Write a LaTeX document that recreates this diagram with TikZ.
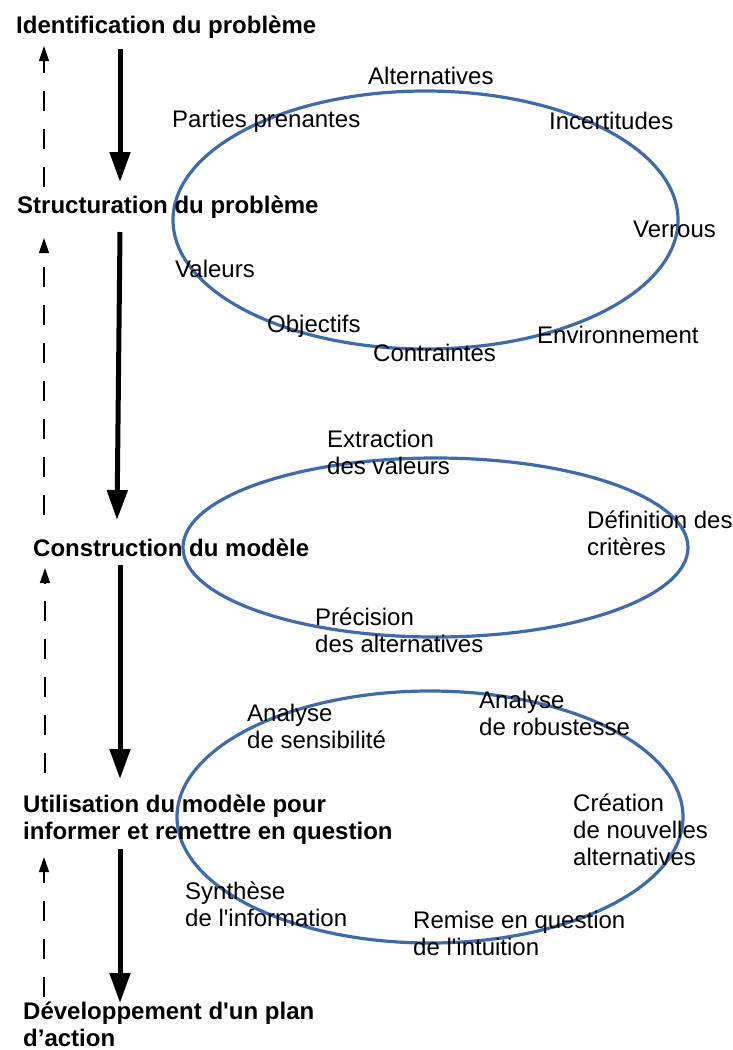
\documentclass[tikz,border=0pt]{standalone}
\usepackage{fontspec}
\setmainfont{Liberation Sans}
\usetikzlibrary{arrows.meta}
\definecolor{ellblue}{HTML}{3F6BAA}
\begin{document}
\begin{tikzpicture}[x=1pt,y=-1pt,
  every node/.style={inner sep=0pt, anchor=west, align=left, font=\fontsize{24}{27}\selectfont},
  stage/.style={font=\fontsize{24}{27}\selectfont\bfseries},
  lab/.style={},
  ell/.style={draw=ellblue, line width=3.2pt},
  mainarrow/.style={line width=5pt, -{Triangle[width=20pt,length=30pt]}},
  backarrow/.style={line width=1.3pt, dash pattern=on 20pt off 18pt, -{Triangle[width=10pt,length=15pt]}},
]
\useasboundingbox (0,0) rectangle (733,1050);

% ellipses
\draw[ell] (425.5,220) ellipse [x radius=252.5pt, y radius=129pt];
\draw[ell] (435.5,547.5) ellipse [x radius=252.5pt, y radius=89.5pt];
\draw[ell] (430,817) ellipse [x radius=253pt, y radius=126pt];

% stages
\node[stage] (s1) at (16,27) {Identification du problème};
\node[stage] (s2) at (17,207) {Structuration du problème};
\node[stage] (s3) at (33,548) {Construction du modèle};
\node[stage] (s4) at (23,820) {Utilisation du modèle pour\\informer et remettre en question};
\node[stage] (s5) at (23,1024) {Développement d\textquotesingle un plan\\d’action};

% labels ellipse 1
\node[lab] (alt) at (368,76) {Alternatives};
\node[lab] (pp) at (172,121.5) {Parties prenantes};
\node[lab] (inc) at (549,121) {Incertitudes};
\node[lab] (ver) at (633,229) {Verrous};
\node[lab] (val) at (175,269) {Valeurs};
\node[lab] (obj) at (267,326.5) {Objectifs};
\node[lab] (con) at (373,353) {Contraintes};
\node[lab] (env) at (537,335) {Environnement};

% labels ellipse 2
\node[lab] (ext) at (327,452) {Extraction\\des valeurs};
\node[lab] (def) at (587,533) {Définition des\\critères};
\node[lab] (pre) at (315,630) {Précision\\des alternatives};

% labels ellipse 3
\node[lab] (sens) at (247,726) {Analyse\\de sensibilité};
\node[lab] (rob) at (479,713) {Analyse\\de robustesse};
\node[lab] (cre) at (573,829.5) {Création\\de nouvelles\\alternatives};
\node[lab] (syn) at (185,904) {Synthèse\\de l\textquotesingle information};
\node[lab] (rem) at (413,933) {Remise en question\\de l\textquotesingle intuition};

% arrow end points
\coordinate (m1a) at (120,49);  \coordinate (m1b) at (120,182);
\coordinate (m2a) at (120,232); \coordinate (m2b) at (117,520);
\coordinate (m3a) at (120,565); \coordinate (m3b) at (120,779);
\coordinate (m4a) at (120,849); \coordinate (m4b) at (120,1003);
\coordinate (b1a) at (44,187);  \coordinate (b1b) at (44,46);
\coordinate (b2a) at (44,515);  \coordinate (b2b) at (44,238);
\coordinate (b3a) at (45,773);  \coordinate (b3b) at (45,568);
\coordinate (b4a) at (44,997);  \coordinate (b4b) at (44,857);

\draw[mainarrow] (m1a) -- (m1b);
\draw[mainarrow] (m2a) -- (m2b);
\draw[mainarrow] (m3a) -- (m3b);
\draw[mainarrow] (m4a) -- (m4b);
\draw[backarrow] (b1a) -- (b1b);
\draw[backarrow] (b2a) -- (b2b);
\draw[backarrow] (b3a) -- (b3b);
\draw[backarrow] (b4a) -- (b4b);
\end{tikzpicture}
\end{document}
